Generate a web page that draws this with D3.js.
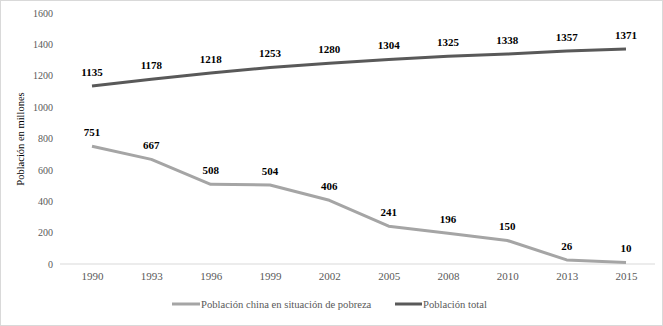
<!DOCTYPE html>
<html><head><meta charset="utf-8">
<script src="https://cdnjs.cloudflare.com/ajax/libs/d3/7.8.5/d3.min.js"></script>
<style>body{margin:0;background:#fff}svg{display:block}</style>
</head><body><svg id="c" width="663" height="326"></svg>
<script>
const years = ["1990","1993","1996","1999","2002","2005","2008","2010","2013","2015"];
const pobreza = [751,667,508,504,406,241,196,150,26,10];
const total = [1135,1178,1218,1253,1280,1304,1325,1338,1357,1371];
const yTicks = [0,200,400,600,800,1000,1200,1400,1600];
const seriesNames = ["Población china en situación de pobreza","Población total"];
const colors = ["#a5a5a5","#595959"];
const FONT = "Liberation Serif";

const svg = d3.select("#c");
svg.append("rect").attr("x",0.5).attr("y",0.5).attr("width",662).attr("height",325)
  .attr("fill","#fff").attr("stroke","#d9d9d9");

const x = d3.scalePoint().domain(years).range([92,626]);
const y = d3.scaleLinear().domain([0,1600]).range([264,13]);

// y axis labels
const ya = svg.append("g").attr("transform","translate(53,0)")
  .call(d3.axisLeft(y).tickValues(yTicks).tickFormat(d3.format("d")).tickSize(0).tickPadding(0));
ya.select(".domain").remove();
ya.attr("font-family",FONT);
ya.selectAll("text").attr("font-size",10).attr("fill","#595959");

// baseline
svg.append("line").attr("x1",60).attr("x2",655).attr("y1",y(0)).attr("y2",y(0))
  .attr("stroke","#d9d9d9").attr("stroke-width",1);

// x axis labels
const xa = svg.append("g").attr("transform",`translate(0,${y(0)})`)
  .call(d3.axisBottom(x).tickSize(0).tickPadding(8));
xa.select(".domain").remove();
xa.attr("font-family",FONT);
xa.selectAll("text").attr("font-size",11).attr("fill","#595959");

// y title
svg.append("text").attr("transform","translate(24,139) rotate(-90)")
  .attr("text-anchor","middle").attr("font-size",10.5).attr("fill","#000")
  .text("Población en millones");

const line = d3.line().x((d,i)=>x(years[i])).y(d=>y(d));
[pobreza,total].forEach((s,k)=>{
  svg.append("path").datum(s).attr("d",line).attr("fill","none")
    .attr("stroke",colors[k]).attr("stroke-width",3).attr("stroke-linejoin","round");
  svg.append("g").selectAll("text").data(s).join("text")
    .attr("x",(d,i)=>x(years[i])).attr("y",d=>y(d)-10)
    .attr("text-anchor","middle").attr("font-size",11).attr("font-weight","bold")
    .attr("fill","#000").text(d=>d);
});

// legend
const leg = [{x:172,w:28},{x:395,w:27}];
seriesNames.forEach((n,k)=>{
  svg.append("line").attr("x1",leg[k].x).attr("x2",leg[k].x+leg[k].w).attr("y1",304).attr("y2",304)
    .attr("stroke",colors[k]).attr("stroke-width",3);
  svg.append("text").attr("x",leg[k].x+leg[k].w+1).attr("y",307.5).attr("font-size",10.6)
    .attr("fill","#595959").text(n);
});

svg.selectAll("text").style("font-family",FONT);
</script></body></html>
